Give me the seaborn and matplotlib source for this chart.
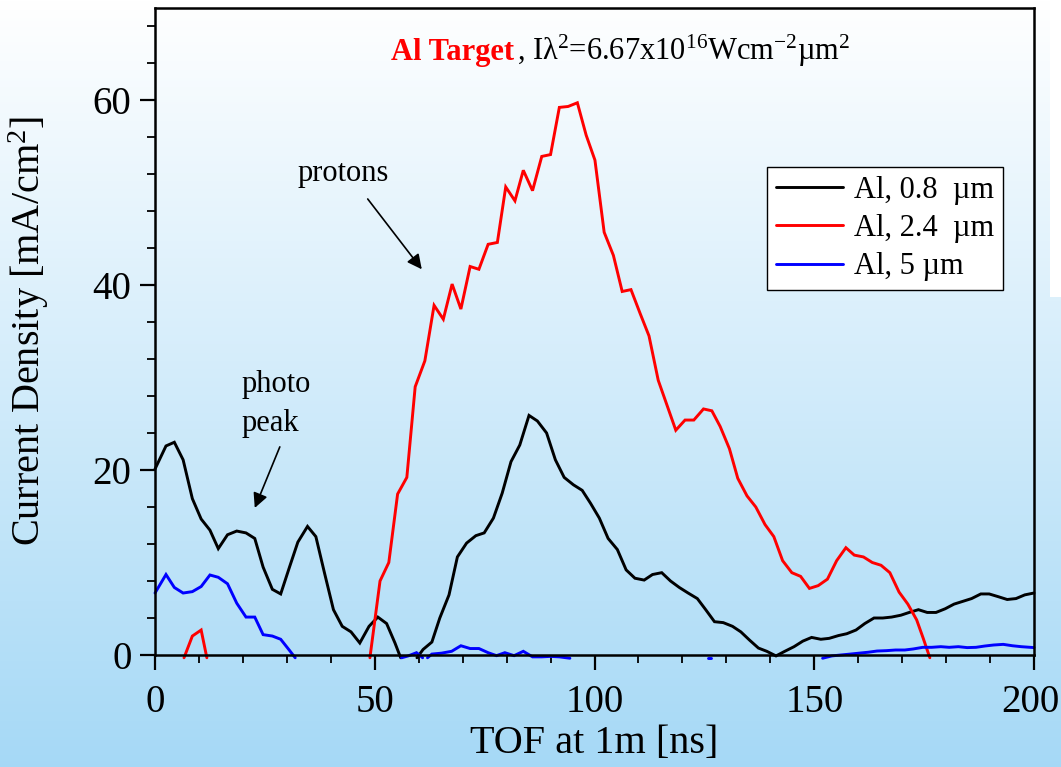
import numpy as np
import pandas as pd
import matplotlib
matplotlib.use("Agg")
import matplotlib.pyplot as plt
import matplotlib.transforms as mtransforms
from matplotlib.lines import Line2D
from matplotlib.patches import Rectangle
from matplotlib.ticker import MultipleLocator
import seaborn as sns

# ---- time-of-flight traces (TOF in ns, current density in mA/cm^2); NaN = gap ----
tof_08 = [0.0, 2.5, 4.4, 6.4, 8.5, 10.5, 12.5, 14.4, 16.5, 18.6, 20.7, 22.7, 24.6, 26.7,
          28.6, 30.6, 32.5, 34.7, 36.6, 38.6, 40.6, 42.6, 44.6, 46.6, 48.7, 50.7, 52.7,
          54.6, 55.9, 57.7, 59.6, 61.0, 63.0, 64.8, 66.9, 68.8, 70.9, 73.0, 74.9, 77.0,
          79.0, 81.0, 83.0, 85.1, 87.0, 89.1, 91.1, 93.1, 95.2, 97.2, 99.1, 101.1, 103.1,
          105.2, 107.2, 109.2, 111.3, 113.2, 115.3, 117.3, 119.3, 121.3, 123.4, 125.3,
          127.3, 129.3, 131.4, 133.3, 135.3, 137.3, 139.2, 141.3, 143.3, 145.4, 147.4,
          149.4, 151.5, 153.4, 155.5, 157.4, 159.5, 161.5, 163.6, 165.6, 167.6, 169.7,
          171.6, 173.7, 175.7, 177.7, 179.8, 181.8, 183.8, 185.8, 187.9, 189.8, 191.9,
          193.9, 195.9, 197.9, 200.0]
cur_08 = [20.1, 22.6, 23.0, 21.1, 16.9, 14.7, 13.5, 11.5, 13.0, 13.4, 13.2, 12.6, 9.5, 7.1,
          6.6, 9.5, 12.2, 13.9, 12.8, 8.8, 4.9, 3.1, 2.5, 1.3, 3.1, 4.1, 3.4,
          1.3, -0.3, np.nan, -0.3, 0.6, 1.4, 4.0, 6.5, 10.6, 12.1, 12.9, 13.2, 14.8,
          17.5, 20.9, 22.7, 25.9, 25.3, 24.0, 21.1, 19.2, 18.4, 17.8, 16.4, 14.8, 12.6,
          11.4, 9.2, 8.3, 8.1, 8.7, 8.9, 8.0, 7.3, 6.7, 6.1, 4.9,
          3.6, 3.5, 3.1, 2.5, 1.6, 0.75, 0.4, -0.1, 0.4, 0.9, 1.5,
          1.9, 1.7, 1.8, 2.1, 2.3, 2.7, 3.4, 4.0, 4.0, 4.1, 4.3,
          4.6, 4.9, 4.6, 4.6, 5.0, 5.5, 5.8, 6.1, 6.6, 6.6, 6.3,
          6.0, 6.1, 6.5, 6.7]

tof_24 = [6.6, 8.5, 10.5, 11.8, 30.0,
          48.9, 51.2, 53.2, 55.2, 57.3, 59.2, 61.4, 63.5, 65.6, 67.6, 69.6, 71.7, 73.7,
          75.8, 77.9, 79.8, 81.9, 83.8, 85.9, 88.0, 90.0, 92.0, 94.0, 96.1, 98.1, 100.1,
          102.2, 104.3, 106.3, 108.3, 110.4, 112.4, 114.5, 118.5, 120.6, 122.6, 124.8,
          126.7, 128.6, 130.7, 132.6, 134.7, 136.7, 138.8, 140.8, 142.8, 144.9, 146.9,
          148.9, 150.9, 153.0, 155.1, 157.2, 159.1, 161.2, 163.2, 165.2, 167.2, 169.3,
          171.3, 173.3, 174.8, 176.3]
cur_24 = [-0.3, 2.05, 2.7, -0.3, np.nan,
          -0.3, 8.0, 10.0, 17.4, 19.2, 29.0, 31.8, 37.8, 36.3, 40.1, 37.4, 42.0, 41.7,
          44.4, 44.6, 50.6, 49.1, 52.4, 50.2, 53.9, 54.1, 59.2, 59.3, 59.7, 56.2, 53.5,
          45.7, 43.2, 39.3, 39.5, 36.9, 34.5, 29.7, 24.3, 25.4, 25.4, 26.6,
          26.4, 24.7, 22.3, 19.1, 17.2, 16.0, 14.1, 12.8, 10.2, 8.9, 8.5,
          7.2, 7.5, 8.2, 10.2, 11.6, 10.8, 10.6, 10.0, 9.7, 8.9, 6.8,
          5.5, 3.8, 1.8, -0.3]

tof_5 = [0.0, 2.5, 4.4, 6.4, 8.5, 10.5, 12.5, 14.4, 16.5, 18.6, 20.7, 22.7, 24.6, 26.7,
         28.6, 30.6, 31.9, 44.0,
         56.1, 57.6, 59.5, 60.9, 61.5,
         62.0, 63.0, 65.2, 67.5, 69.6, 71.7, 73.7, 75.8, 77.7, 79.6, 81.7, 83.8, 85.9,
         88.0, 90.0, 92.0, 94.4, 110.0,
         125.9, 126.5, 140.0,
         151.9, 154.0, 156.0, 158.2, 160.2, 162.3, 164.3, 166.4, 168.5, 170.6, 172.5,
         174.7, 176.7, 178.8, 180.7, 182.8, 184.8, 186.8, 188.8, 190.8, 193.0, 195.1,
         197.1, 200.0]
cur_5 = [6.7, 8.7, 7.3, 6.7, 6.85, 7.4, 8.65, 8.4, 7.7, 5.6, 4.1, 4.1, 2.2, 2.05,
         1.7, 0.5, -0.3, np.nan,
         -0.3, -0.1, 0.25, -0.3, np.nan,
         -0.3, 0.1, 0.2, 0.4, 1.0, 0.7, 0.7, 0.25, -0.07, 0.25, -0.07, 0.4, -0.2,
         -0.2, -0.15, -0.2, -0.35, np.nan,
         -0.3, -0.3, np.nan,
         -0.35, -0.1, 0.0, 0.1, 0.2, 0.3, 0.43, 0.47, 0.54, 0.54, 0.65,
         0.83, 0.83, 0.9, 0.83, 0.9, 0.8, 0.83, 0.97, 1.08, 1.15, 1.0,
         0.9, 0.8]

series_names = ["Al, 0.8  µm", "Al, 2.4  µm", "Al, 5 µm"]
series_colors = ["#000000", "#ff0000", "#0000ff"]
x_ticks = [0, 50, 100, 150, 200]
y_ticks = [0, 20, 40, 60]


def to_frame(name, tof, cur):
    """Long-form frame; each NaN starts a new line segment."""
    cur = np.asarray(cur, dtype=float)
    seg = np.cumsum(np.isnan(cur))
    df = pd.DataFrame({"tof": tof, "cur": cur, "seg": seg, "series": name})
    df["unit"] = df["series"] + "_" + df["seg"].astype(str)
    return df.dropna(subset=["cur"])


data = pd.concat([to_frame(series_names[0], tof_08, cur_08),
                  to_frame(series_names[1], tof_24, cur_24),
                  to_frame(series_names[2], tof_5, cur_5)], ignore_index=True)

sns.set_theme(style="ticks")
plt.rcParams["font.family"] = ["Liberation Serif", "DejaVu Serif"]
plt.rcParams["mathtext.fontset"] = "custom"
plt.rcParams["mathtext.rm"] = "Liberation Serif"
plt.rcParams["mathtext.default"] = "regular"
plt.rcParams["text.color"] = "black"
plt.rcParams["axes.labelcolor"] = "black"
plt.rcParams["xtick.color"] = "black"
plt.rcParams["ytick.color"] = "black"

W, H = 1061, 767
fig = plt.figure(figsize=(W / 100, H / 100), dpi=100)

# vertical white-to-sky-blue backdrop
bg = fig.add_axes([0, 0, 1, 1], zorder=-10)
t = np.linspace(0, 1, 256)[:, None]
top_c = np.array([1.0, 1.0, 1.0])
bot_c = np.array([0.65, 0.85, 0.965])
grad = top_c * (1 - t[..., None]) + bot_c * t[..., None]
grad = np.repeat(grad, 2, axis=1)
bg.imshow(grad, aspect="auto", extent=[0, 1, 0, 1], origin="upper")
bg.set_axis_off()
fig.patches.append(Rectangle((1050 / W, 1 - 297 / H), 11 / W, 297 / H,
                             transform=fig.transFigure, facecolor="white",
                             edgecolor="none", zorder=-5))

ax = fig.add_axes([155 / W, (H - 655) / H, (1034 - 155) / W, (655 - 7.5) / H])
ax.set_facecolor("none")

sns.lineplot(data=data, x="tof", y="cur", hue="series", units="unit",
             estimator=None, sort=False, palette=dict(zip(series_names, series_colors)),
             hue_order=series_names, linewidth=2.1, legend=False, ax=ax)
for ln in ax.lines:
    ln.set_clip_on(False)
    ln.set_solid_joinstyle("miter")

ax.set_xlim(0, 200)
ax.set_ylim(0, 70)
ax.set_xticks(x_ticks)
ax.set_yticks(y_ticks)
ax.xaxis.set_minor_locator(MultipleLocator(10))
ax.yaxis.set_minor_locator(MultipleLocator(4))
ax.tick_params(axis="both", which="major", direction="out", length=11, width=1.6,
               labelsize=28, colors="black", pad=6)
ax.tick_params(axis="both", which="minor", direction="out", length=6, width=1.3)
ax.tick_params(axis="x", which="major", pad=10)
for sp in ax.spines.values():
    sp.set_linewidth(1.8)
    sp.set_color("black")

# nudge the last x label so it stays on the canvas
last = ax.get_xticklabels()[-1]
last.set_transform(last.get_transform() +
                   mtransforms.ScaledTranslation(-4 / 100, 0, fig.dpi_scale_trans))

ax.set_xlabel("TOF at 1m [ns]", fontsize=29, labelpad=3)
ax.set_ylabel("Current Density [mA/cm$^{2}$]", fontsize=29, labelpad=30)

# heading inside the frame
ax.text(81.6, 64.3, "Al Target", color="red", fontsize=22, fontweight="bold",
        ha="right", va="baseline")
ax.text(82.3, 64.3, ", Iλ$^{2}$=6.67x10$^{16}$Wcm$^{-2}$µm$^{2}$", color="black",
        fontsize=22, ha="left", va="baseline")

# annotations
ax.text(42.8, 52.0, "protons", fontsize=22, ha="center", va="center")
ax.annotate("", xy=(60.7, 41.7), xytext=(48.4, 49.3),
            arrowprops=dict(arrowstyle="-|>", color="black", lw=1.2,
                            mutation_scale=22, shrinkA=0, shrinkB=0))
ax.text(19.6, 29.2, "photo", fontsize=22, ha="left", va="center")
ax.text(19.6, 25.0, "peak", fontsize=22, ha="left", va="center")
ax.annotate("", xy=(22.7, 15.9), xytext=(28.4, 22.5),
            arrowprops=dict(arrowstyle="-|>", color="black", lw=1.2,
                            mutation_scale=22, shrinkA=0, shrinkB=0))

handles = [Line2D([], [], color=c, lw=2.1) for c in series_colors]
leg = ax.legend(handles, series_names, loc="upper left",
                bbox_to_anchor=(0.696, 0.754), borderaxespad=0, fontsize=22,
                handlelength=2.2, handletextpad=0.35, labelspacing=0.3,
                borderpad=0.3, fancybox=False, framealpha=1, edgecolor="black")
leg.get_frame().set_linewidth(1.0)

fig.savefig("out.png", dpi=100)
